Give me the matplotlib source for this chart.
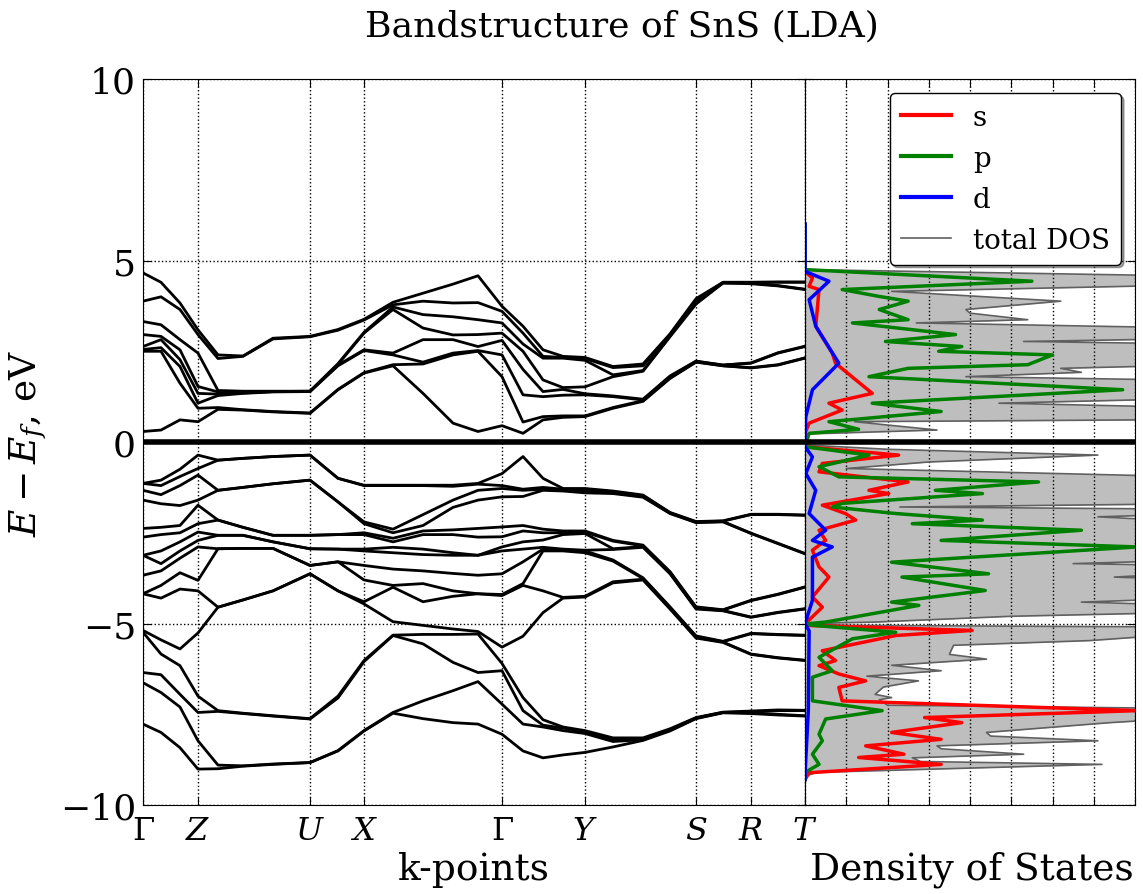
import numpy as np
import matplotlib
matplotlib.use("Agg")
import matplotlib.pyplot as plt

plt.rcParams['font.family'] = 'DejaVu Serif'
plt.rcParams['mathtext.fontset'] = 'dejavuserif'

# k-path (distance along path) and high-symmetry labels
kpath = [0, 18, 37, 55, 75, 100, 130, 167, 195, 221, 250, 280, 310, 335,
         359, 380, 400, 420, 442, 470, 500, 527, 553, 580, 608, 635, 662]
ktick_pos = [0, 55, 167, 221, 359, 442, 553, 608, 662]
ktick_lab = [r'$\Gamma$', r'$Z$', r'$U$', r'$X$', r'$\Gamma$', r'$Y$', r'$S$', r'$R$', r'$T$']

# band energies (eV) at every k-point of kpath
cb_levels = [
    [0.29, 2.50, 2.55, 2.63, 2.96, 3.32, 3.88, 4.66],
    [0.33, 2.50, 2.60, 2.82, 2.91, 3.23, 4.00, 4.40],
    [0.61, 1.62, 2.08, 2.27, 2.54, 2.82, 3.65, 3.83],
    [0.56, 0.93, 1.07, 1.34, 1.53, 2.45, 2.96, 3.09],
    [0.90, 0.95, 1.28, 1.32, 1.38, 1.42, 2.30, 2.40],
    [0.88, 0.89, 1.34, 1.35, 1.39, 1.40, 2.36, 2.37],
    [0.83, 0.84, 1.38, 1.39, 1.39, 1.40, 2.84, 2.86],
    [0.79, 0.80, 1.39, 1.39, 1.40, 1.40, 2.90, 2.91],
    [1.44, 1.45, 2.10, 2.12, 2.14, 2.16, 3.08, 3.10],
    [1.90, 1.91, 2.52, 2.54, 3.00, 3.02, 3.36, 3.38],
    [2.10, 2.13, 2.40, 2.45, 3.65, 3.72, 3.78, 3.85],
    [1.34, 2.15, 2.20, 2.82, 3.14, 3.51, 3.88, 4.10],
    [0.52, 2.40, 2.45, 2.82, 2.95, 3.45, 3.83, 4.35],
    [0.29, 2.50, 2.52, 2.63, 2.96, 3.37, 3.84, 4.58],
    [0.45, 1.80, 2.40, 2.80, 3.00, 3.28, 3.60, 3.74],
    [0.24, 0.55, 1.30, 2.00, 2.50, 2.70, 3.00, 3.19],
    [0.61, 0.70, 1.25, 1.39, 1.71, 2.31, 2.36, 2.54],
    [0.68, 0.72, 1.29, 1.45, 1.50, 2.31, 2.33, 2.36],
    [0.70, 0.72, 1.30, 1.33, 1.52, 2.25, 2.30, 2.33],
    [0.93, 0.95, 1.25, 1.27, 1.80, 1.85, 2.05, 2.08],
    [1.12, 1.14, 1.16, 1.18, 1.95, 1.97, 2.10, 2.15],
    [1.75, 1.77, 1.80, 1.82, 2.90, 2.92, 2.96, 2.98],
    [2.20, 2.21, 2.22, 2.23, 3.80, 3.85, 3.90, 3.95],
    [2.10, 2.10, 2.12, 2.12, 4.38, 4.38, 4.40, 4.40],
    [2.04, 2.05, 2.17, 2.18, 4.36, 4.38, 4.40, 4.40],
    [2.12, 2.13, 2.45, 2.46, 4.30, 4.31, 4.40, 4.41],
    [2.31, 2.32, 2.63, 2.64, 4.20, 4.21, 4.40, 4.41],
]

vb_upper_levels = [
    [-5.19, -4.18, -4.18, -3.67, -3.12, -3.12, -2.62, -2.38, -1.60, -1.33, -1.14, -1.14],
    [-5.45, -4.30, -3.95, -3.55, -3.35, -3.00, -2.55, -2.35, -1.70, -1.45, -1.20, -1.05],
    [-5.70, -4.05, -3.60, -3.20, -3.00, -2.75, -2.50, -2.30, -1.75, -1.20, -0.95, -0.75],
    [-5.26, -4.10, -3.81, -2.89, -2.71, -2.48, -2.25, -1.74, -1.60, -0.91, -0.73, -0.36],
    [-4.55, -4.55, -2.94, -2.94, -2.57, -2.57, -2.15, -2.15, -1.33, -1.33, -0.50, -0.50],
    [-4.35, -4.35, -2.93, -2.93, -2.57, -2.57, -2.35, -2.35, -1.25, -1.25, -0.45, -0.45],
    [-4.10, -4.10, -2.93, -2.93, -2.75, -2.75, -2.57, -2.57, -1.15, -1.15, -0.40, -0.40],
    [-3.63, -3.63, -3.40, -3.40, -2.94, -2.94, -2.57, -2.57, -1.05, -1.05, -0.36, -0.36],
    [-4.10, -4.10, -3.30, -3.30, -2.95, -2.95, -2.55, -2.55, -1.65, -1.65, -1.00, -1.00],
    [-4.46, -4.40, -3.80, -3.40, -3.00, -2.95, -2.55, -2.50, -2.25, -2.20, -1.20, -1.19],
    [-4.95, -4.00, -3.95, -3.50, -3.05, -2.90, -2.75, -2.65, -2.50, -2.40, -1.20, -1.19],
    [-5.05, -4.40, -3.90, -3.55, -3.10, -2.95, -2.55, -2.45, -2.30, -2.00, -1.20, -1.19],
    [-5.15, -4.25, -4.10, -3.62, -3.12, -3.05, -2.55, -2.42, -1.80, -1.60, -1.22, -1.19],
    [-5.22, -4.18, -4.18, -3.67, -3.12, -3.12, -2.62, -2.38, -1.60, -1.33, -1.16, -1.14],
    [-5.65, -4.23, -4.20, -3.63, -3.00, -2.89, -2.61, -2.34, -1.51, -1.28, -1.20, -0.87],
    [-5.35, -3.95, -3.90, -3.30, -2.95, -2.75, -2.45, -2.30, -1.50, -1.33, -1.30, -0.40],
    [-4.70, -4.10, -3.00, -2.95, -2.90, -2.70, -2.50, -2.40, -1.33, -1.30, -1.25, -1.00],
    [-4.30, -4.28, -3.00, -2.98, -2.95, -2.55, -2.50, -2.45, -1.35, -1.33, -1.30, -1.28],
    [-4.27, -4.25, -3.05, -3.00, -2.98, -2.52, -2.48, -2.45, -1.40, -1.35, -1.30, -1.28],
    [-3.88, -3.85, -3.28, -3.25, -2.96, -2.94, -2.73, -2.71, -1.42, -1.40, -1.37, -1.35],
    [-3.80, -3.78, -3.76, -3.74, -2.90, -2.88, -2.86, -2.84, -1.52, -1.50, -1.48, -1.46],
    [-4.60, -4.58, -4.56, -4.54, -3.63, -3.61, -3.59, -3.57, -1.97, -1.96, -1.95, -1.94],
    [-5.40, -5.38, -5.36, -5.34, -4.60, -4.58, -4.56, -4.54, -2.22, -2.21, -2.20, -2.19],
    [-5.52, -5.51, -5.50, -5.49, -4.65, -4.64, -4.63, -4.62, -2.20, -2.19, -2.18, -2.17],
    [-5.85, -5.84, -5.28, -5.27, -4.83, -4.82, -4.37, -4.36, -2.52, -2.51, -2.00, -1.99],
    [-5.95, -5.94, -5.31, -5.30, -4.70, -4.69, -4.20, -4.19, -2.80, -2.79, -2.00, -1.99],
    [-6.02, -6.01, -5.33, -5.32, -4.60, -4.59, -4.00, -3.99, -3.08, -3.07, -2.02, -2.01],
]

vb_lower_levels = [
    [-7.77, -6.63, -6.35, -5.24],
    [-8.00, -6.90, -6.41, -5.84],
    [-8.42, -7.30, -6.95, -6.16],
    [-9.01, -8.23, -7.45, -7.00],
    [-9.00, -8.90, -7.42, -7.40],
    [-8.93, -8.92, -7.48, -7.47],
    [-8.88, -8.87, -7.55, -7.54],
    [-8.83, -8.83, -7.63, -7.62],
    [-8.51, -8.50, -7.05, -7.00],
    [-7.96, -7.95, -6.05, -6.02],
    [-7.47, -7.45, -5.33, -5.32],
    [-7.62, -7.13, -5.56, -5.30],
    [-7.73, -6.85, -6.07, -5.30],
    [-7.77, -6.60, -6.35, -5.29],
    [-8.05, -7.22, -6.30, -6.10],
    [-8.51, -7.77, -7.40, -7.04],
    [-8.70, -7.85, -7.80, -7.65],
    [-8.62, -7.95, -7.88, -7.85],
    [-8.55, -8.03, -7.98, -7.95],
    [-8.40, -8.25, -8.20, -8.15],
    [-8.22, -8.20, -8.18, -8.15],
    [-7.96, -7.94, -7.92, -7.90],
    [-7.62, -7.61, -7.60, -7.59],
    [-7.46, -7.45, -7.45, -7.44],
    [-7.48, -7.46, -7.43, -7.41],
    [-7.52, -7.50, -7.40, -7.38],
    [-7.55, -7.54, -7.40, -7.39],
]

# density of states: (energy, value) vertices
tdos_e = [-9.30, -9.20, -9.10, -8.88, -8.80, -8.70, -8.60, -8.45, -8.37, -8.23, -8.10,
          -8.00, -7.73, -7.62, -7.50, -7.35, -7.25, -7.10, -7.04, -6.95, -6.75, -6.58,
          -6.45, -6.30, -6.15, -5.98, -5.85, -5.60, -5.47, -5.30, -5.20, -5.10, -5.05,
          -5.00, -4.96, -4.80, -4.69, -4.50, -4.41, -4.30, -3.80, -3.72, -3.60, -3.40,
          -3.35, -3.25, -2.20, -2.06, -1.98, -1.85, -1.79, -1.70, -1.05, -0.96, -0.73,
          -0.55, -0.36, -0.20, -0.08, 0.22, 0.33, 0.56, 0.62, 0.95, 1.07, 1.20, 1.70,
          1.80, 1.92, 2.03, 2.12, 2.70, 2.77, 2.85, 3.14, 3.28, 3.37, 3.55, 3.65, 3.88,
          4.15, 4.33, 4.57, 4.75, 6.00]
tdos_v = [0.0, 0.0, 0.3, 7.2, 2.8, 2.6, 5.3, 3.3, 3.2, 7.1, 4.5,
          4.4, 7.4, 9.0, 10.0, 10.0, 2.0, 1.8, 2.1, 1.7, 1.9, 2.75,
          1.5, 3.3, 2.1, 4.4, 3.5, 3.6, 6.9, 9.0, 10.0, 10.0, 1.0,
          0.05, 1.7, 5.0, 9.5, 9.5, 6.7, 9.5, 9.5, 7.5, 9.5, 9.5,
          6.5, 9.5, 9.5, 7.1, 9.5, 9.5, 2.3, 9.5, 9.5, 9.5, 1.0,
          3.0, 7.1, 2.0, 0.0, 0.0, 3.2, 1.2, 9.5, 9.5, 4.7, 9.5, 9.5,
          3.9, 6.7, 6.2, 9.5, 9.5, 5.3, 9.5, 9.5, 2.7, 5.4, 4.0, 3.9, 6.2,
          2.1, 9.5, 9.5, 0.0, 0.0]

s_e = [-9.30, -9.11, -8.88, -8.69, -8.60, -8.37, -8.19, -8.00, -7.73, -7.59, -7.40,
       -7.13, -6.76, -6.58, -6.39, -6.16, -6.02, -5.75, -5.33, -5.19, -5.05,
       -5.01, -4.55, -4.27, -3.72, -3.44, -2.98, -2.71, -2.43, -2.15, -1.97, -1.74,
       -1.42, -1.33, -1.10, -0.82, -0.59, -0.36, -0.13, 0.24, 0.52, 0.88, 1.07,
       1.34, 2.17, 2.45, 3.19, 4.20, 4.29, 4.52, 4.70, 6.00]
s_v = [0.0, 0.1, 3.3, 1.3, 2.4, 1.47, 3.3, 2.1, 3.8, 2.9, 8.05,
       0.9, 0.82, 1.47, 0.82, 0.34, 0.74, 0.42, 2.2, 4.05, 0.0,
       0.0, 0.42, 0.18, 0.58, 0.34, 0.18, 0.5, 0.34, 1.23, 0.98, 0.42,
       2.03, 1.55, 2.5, 0.34, 0.42, 2.27, 0.0, 0.0, 0.1, 0.9, 0.58,
       1.63, 0.74, 0.66, 0.26, 0.34, 0.1, 0.18, 0.0, 0.0]

p_e = [-9.30, -9.10, -8.88, -8.60, -8.23, -8.05, -7.63, -7.40, -7.13, -6.48, -6.30,
       -5.93, -5.42, -5.24, -5.05, -5.01, -4.96, -4.73, -4.50, -4.41, -4.09, -3.72,
       -3.63, -3.31, -2.89, -2.71, -2.43, -2.25, -2.15, -1.97, -1.79, -1.69, -1.42,
       -1.33, -1.10, -0.96, -0.68, -0.36, -0.13, 0.24, 0.35, 0.56, 0.84, 1.07,
       1.44, 1.80, 2.03, 2.13, 2.40, 2.50, 2.63, 2.77, 2.96, 3.28, 3.37, 3.65,
       3.88, 4.01, 4.20, 4.43, 4.75, 6.00]
p_v = [0.0, 0.0, 0.34, 0.18, 0.42, 0.34, 0.5, 1.87, 0.18, 0.18, 0.66,
       0.34, 1.15, 2.2, 0.2, 0.0, 0.5, 1.63, 2.76, 2.1, 4.37, 2.35,
       4.45, 2.1, 8.05, 3.3, 6.7, 2.6, 4.3, 2.2, 0.66, 0.9, 4.3,
       3.16, 5.66, 0.82, 0.34, 1.55, 0.0, 0.1, 1.3, 0.58, 3.3, 1.63,
       7.7, 1.55, 2.5, 5.4, 6.0, 3.24, 3.8, 1.95, 3.65, 1.15, 2.5, 1.8,
       2.5, 1.8, 0.9, 5.5, 0.0, 0.0]

d_e = [-9.30, -9.15, -7.40, -5.20, -5.01, -4.36, -3.17, -2.89, -2.71, -2.43, -1.97,
       -1.33, -0.87, -0.41, -0.13, 0.24, 0.70, 1.44, 2.17, 3.19, 3.92, 4.43,
       4.70, 6.00]
d_v = [0.0, 0.0, 0.08, 0.1, 0.0, 0.18, 0.18, 0.66, 0.18, 0.5, 0.1,
       0.26, 0.02, 0.18, 0.0, 0.0, 0.02, 0.18, 0.82, 0.26, 0.1, 0.58,
       0.0, 0.0]

fig = plt.figure(figsize=(11.43, 8.95), dpi=100)
ax1 = fig.add_axes([0.1251, 0.0994, 0.5792, 0.8112])
ax2 = fig.add_axes([0.7043, 0.0994, 0.2887, 0.8112])

# bands
for levels in (cb_levels, vb_upper_levels, vb_lower_levels):
    bands = np.sort(np.array(levels), axis=1).T
    for b in bands:
        ax1.plot(kpath, b, color='k', lw=2)
ax1.axhline(0, color='k', lw=4)

ax1.set_xlim(kpath[0], kpath[-1])
ax1.set_ylim(-10, 10)
ax1.set_xticks(ktick_pos)
ax1.set_xticklabels(ktick_lab, fontsize=23)
ax1.set_yticks([-10, -5, 0, 5, 10])
ax1.set_yticklabels(['\u221210', '\u22125', '0', '5', '10'], fontsize=26)
ax1.grid(True, color='k', ls=':', lw=1)
ax1.tick_params(direction='in', top=True, right=True, length=6)
ax1.tick_params(axis='x', pad=7)
ax1.tick_params(axis='y', pad=5)
ax1.set_ylabel(r'$E - E_f$, eV', fontsize=27, labelpad=8)

# DOS
ax2.fill_betweenx(tdos_e, 0, tdos_v, color='#bebebe', lw=0)
ax2.plot(tdos_v, tdos_e, color='#606060', lw=1.2, label='total DOS')
ax2.plot(s_v, s_e, color='red', lw=2.5, label='s')
ax2.plot(p_v, p_e, color='green', lw=2.5, label='p')
ax2.plot(d_v, d_e, color='blue', lw=2.5, label='d')
ax2.axhline(0, color='k', lw=4)

ax2.set_xlim(0, 8)
ax2.set_ylim(-10, 10)
ax2.set_xticks(range(0, 9))
ax2.set_xticklabels([])
ax2.set_yticks([-10, -5, 0, 5, 10])
ax2.set_yticklabels([])
ax2.grid(True, color='k', ls=':', lw=1)
ax2.tick_params(direction='in', top=True, right=True, length=6)

h, l = ax2.get_legend_handles_labels()
order = [1, 2, 3, 0]
leg = ax2.legend([h[i] for i in order], [l[i] for i in order], loc='upper right',
                 fontsize=20, fancybox=True, shadow=True, framealpha=1,
                 handlelength=1.8, labelspacing=0.5, borderaxespad=0.5)
leg.get_frame().set_edgecolor('k')
for line in leg.get_lines()[:3]:
    line.set_linewidth(3)

fig.text(0.415, 0.028, 'k-points', ha='center', va='center', fontsize=27)
fig.text(0.850, 0.028, 'Density of States', ha='center', va='center', fontsize=27)
fig.text(0.544, 0.970, 'Bandstructure of SnS (LDA)', ha='center', va='center', fontsize=26)

fig.savefig('out.png', dpi=100)
